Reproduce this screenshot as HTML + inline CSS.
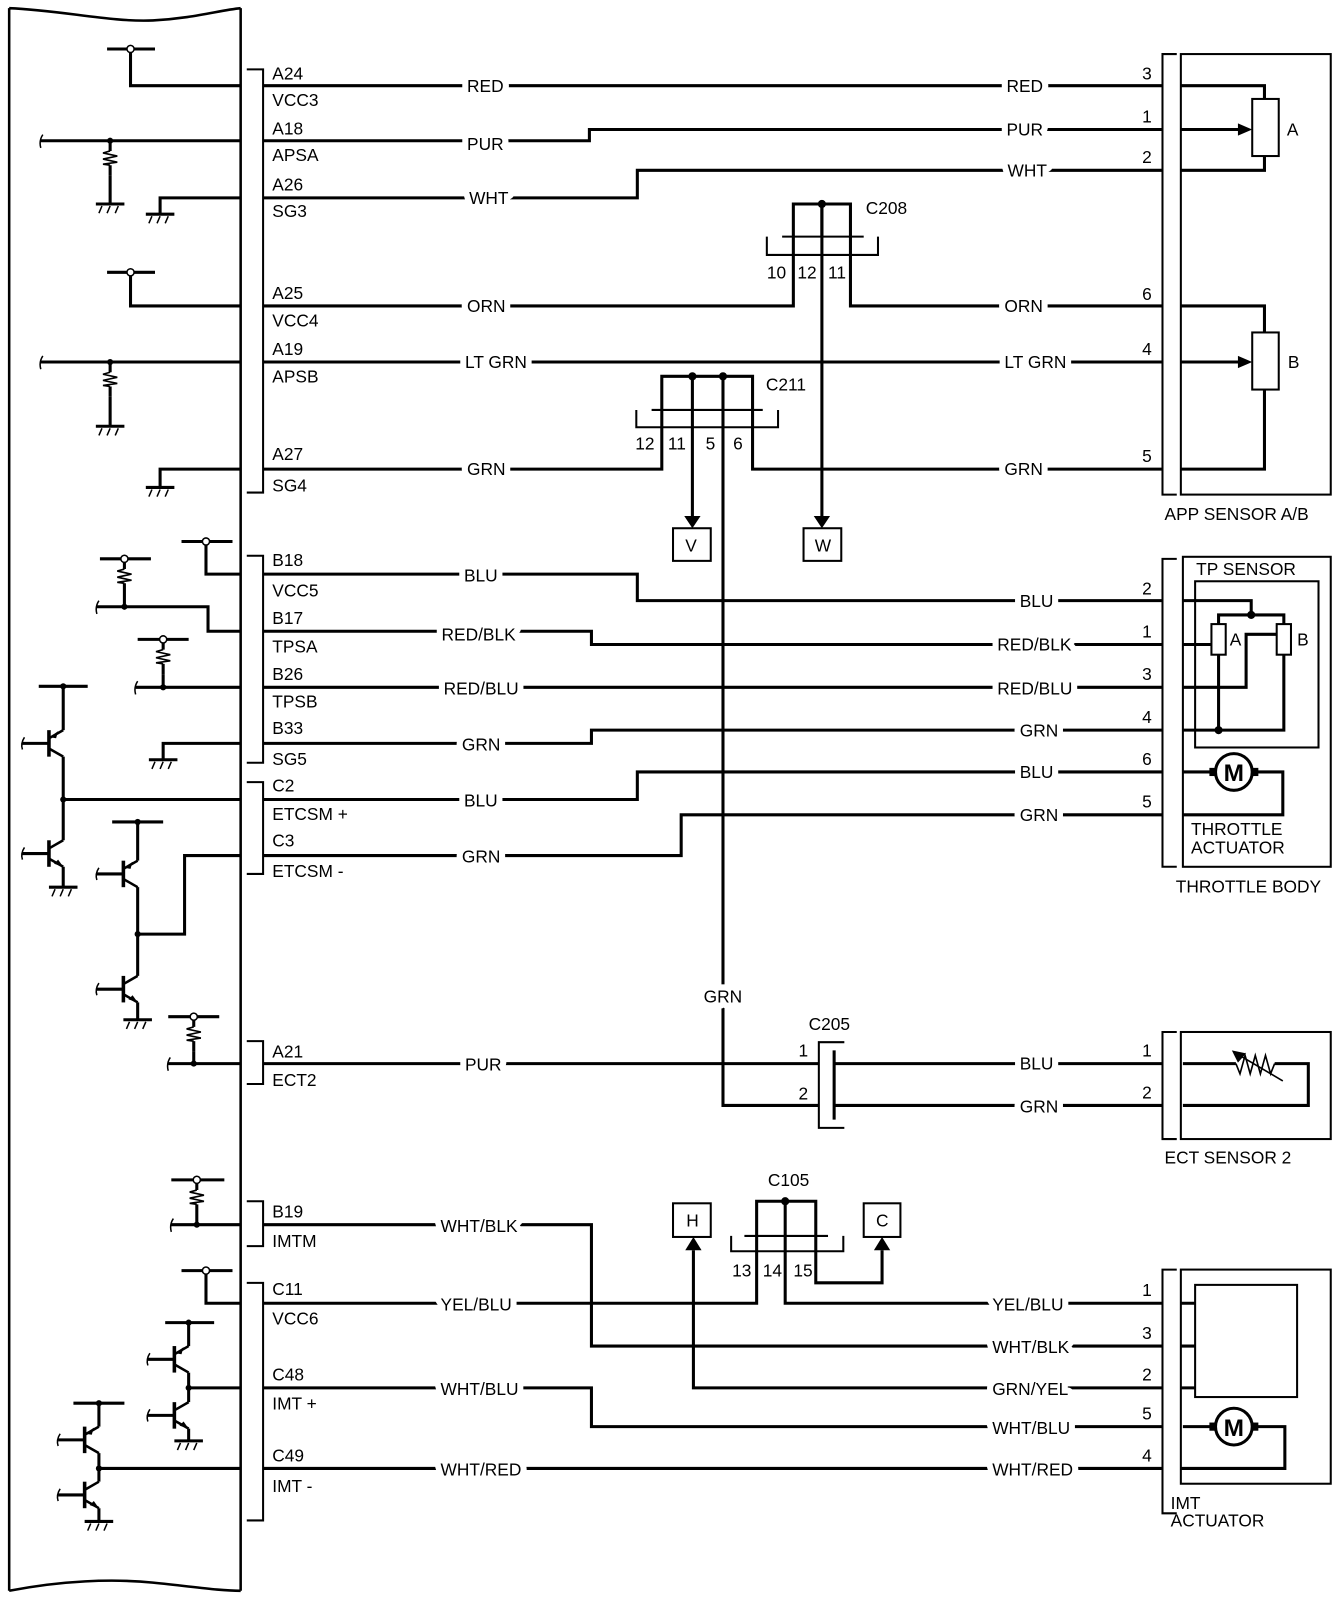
<!DOCTYPE html>
<html><head><meta charset="utf-8"><style>
html,body{margin:0;padding:0;background:#fff;}
svg{display:block;}
text{font-family:"Liberation Sans",sans-serif;font-size:17px;fill:#000;}
.m{stroke:#fff;stroke-width:12px;paint-order:stroke;stroke-linejoin:round;}
</style></head><body>
<svg width="1344" height="1600" viewBox="0 0 1318 1569" xmlns="http://www.w3.org/2000/svg">
<defs>
<g id="tp" stroke="#000" fill="none">
 <line x1="0" y1="-13" x2="0" y2="13" stroke-width="3.5"/>
 <path d="M-26,0 H0" stroke-width="3"/>
 <path d="M-24,-6 Q-28,0 -26,6" stroke-width="1.5"/>
 <path d="M0,-5 L14,-13" stroke-width="2.5"/>
 <path d="M0,5 L14,13" stroke-width="2.5"/>
 <polygon points="1,-6 9,-12 7,-5" fill="#000" stroke="none"/>
</g>
<g id="tn" stroke="#000" fill="none">
 <line x1="0" y1="-13" x2="0" y2="13" stroke-width="3.5"/>
 <path d="M-26,0 H0" stroke-width="3"/>
 <path d="M-24,-6 Q-28,0 -26,6" stroke-width="1.5"/>
 <path d="M0,-5 L14,-13" stroke-width="2.5"/>
 <path d="M0,5 L14,13" stroke-width="2.5"/>
 <polygon points="14,13 5,10 9,6" fill="#000" stroke="none"/>
</g>
<g id="gnd" stroke="#000" fill="none">
 <line x1="-14" y1="0" x2="14" y2="0" stroke-width="3"/>
 <path d="M-8,2 L-11,9 M0,2 L-3,9 M8,2 L5,9" stroke-width="1.5"/>
</g>
<g id="res" stroke="#000" fill="none">
 <path d="M0,0 V10 M0,24 V34" stroke-width="3"/>
 <path d="M0,10 L-7,12 L7,15 L-7,18 L7,21 L-7,23 L0,24" stroke-width="1.6"/>
</g>
</defs>

<path d="M9,8 C60,10 110,22 150,20 C190,18 215,10 236,8 M9,8 V1560 M236,8 V1560 M9,1560 C60,1550 110,1548 150,1552 C190,1556 215,1560 236,1560" stroke="#000" stroke-width="2.5" fill="none"/>

<g stroke="#000" stroke-width="3" fill="none">
<path d="M105,48 H152 M128,48 V84 H236"/>
<path d="M40,138 H236"/>
<path d="M236,194 H157 V210"/>
<path d="M105,267 H152 M128,267 V300 H236"/>
<path d="M40,355 H236"/>
<path d="M236,460 H157 V478"/>
<path d="M178,531 H228 M202,531 V563 H236"/>
<path d="M98,548 H148 M95,595 H204 V619 H236"/>
<path d="M135,627 H185 M133,674 H236"/>
<path d="M236,729 H160 V745"/>
<path d="M38,673 H86 M62,673 V716 M62,742 V824 M62,850 V870 M62,784 H236"/>
<path d="M110,806 H160 M135,806 V844 M135,870 V957 M135,983 V1000 M135,916 H181 V839 H236"/>
<path d="M165,997 H215 M165,1043 H236"/>
<path d="M168,1157 H220 M168,1201 H236"/>
<path d="M178,1246 H228 M202,1246 V1278 H236"/>
<path d="M162,1297 H210 M185,1297 V1320 M185,1346 V1375 M185,1401 V1413 M185,1361 H236"/>
<path d="M72,1376 H122 M97,1376 V1399 M97,1425 V1453 M97,1479 V1492 M97,1440 H236"/>
</g>
<g stroke="#000" stroke-width="1.5" fill="none">
<path d="M42,132 Q38,138 40,145 M42,349 Q38,355 40,362 M97,589 Q93,595 95,602 M135,668 Q131,674 133,681 M167,1037 Q163,1043 165,1050 M170,1195 Q166,1201 168,1208"/>
</g>
<use href="#res" x="108" y="138"/><use href="#gnd" x="108" y="200"/>
<use href="#gnd" x="157" y="210"/>
<use href="#res" x="108" y="355"/><use href="#gnd" x="108" y="418"/>
<use href="#gnd" x="157" y="478"/>
<use href="#res" x="122" y="548"/>
<path d="M108,172 V200 M108,389 V418 M122,582 V595 M160,661 V674 M190,1031 V1043 M193,1191 V1201" stroke="#000" stroke-width="3"/>
<use href="#res" x="160" y="627"/>
<use href="#gnd" x="160" y="745"/>
<use href="#tp" x="48" y="729"/><use href="#tn" x="48" y="837"/><use href="#gnd" x="62" y="870"/>
<use href="#tp" x="121" y="857"/><use href="#tn" x="121" y="970"/><use href="#gnd" x="135" y="1000"/>
<use href="#res" x="190" y="997"/>
<use href="#res" x="193" y="1157"/>
<use href="#tp" x="171" y="1333"/><use href="#tn" x="171" y="1388"/><use href="#gnd" x="185" y="1413"/>
<use href="#tp" x="83" y="1412"/><use href="#tn" x="83" y="1466"/><use href="#gnd" x="97" y="1492"/>
<g fill="#000">
<circle cx="108" cy="138" r="3"/><circle cx="108" cy="355" r="3"/><circle cx="122" cy="595" r="3"/><circle cx="160" cy="674" r="3"/>
<circle cx="62" cy="673" r="3"/><circle cx="62" cy="784" r="3"/><circle cx="135" cy="806" r="3"/><circle cx="135" cy="916" r="3"/>
<circle cx="190" cy="1043" r="3"/><circle cx="193" cy="1201" r="3"/><circle cx="185" cy="1297" r="3"/><circle cx="185" cy="1361" r="3"/>
<circle cx="97" cy="1376" r="3"/><circle cx="97" cy="1440" r="3"/>
</g>
<g fill="#fff" stroke="#000" stroke-width="1.5">
<circle cx="128" cy="48" r="3.5"/><circle cx="128" cy="267" r="3.5"/><circle cx="202" cy="531" r="3.5"/><circle cx="122" cy="548" r="3.5"/>
<circle cx="160" cy="627" r="3.5"/><circle cx="190" cy="997" r="3.5"/><circle cx="193" cy="1157" r="3.5"/><circle cx="202" cy="1246" r="3.5"/>
</g>

<g stroke="#000" stroke-width="2" fill="none">
<path d="M242,68 H258 V483 H242"/>
<path d="M242,545 H258 V748 H242"/>
<path d="M242,767 H258 V857 H242"/>
<path d="M242,1021 H258 V1063 H242"/>
<path d="M242,1178 H258 V1222 H242"/>
<path d="M242,1258 H258 V1491 H242"/>
</g>

<g stroke="#000" stroke-width="3" fill="none">
<path d="M258,84 H1140"/>
<path d="M258,138 H578 V127 H1140"/>
<path d="M258,194 H625 V167 H1140"/>
<path d="M258,300 H778 V232 M834,232 V300 H1140"/>
<path d="M258,355 H1140"/>
<path d="M258,460 H649 V402 M738,402 V460 H1140"/>
<path d="M806,200 V506 M679,369 V506 M709,369 V1084 H803"/>
<path d="M258,563 H625 V589 H1140"/>
<path d="M258,619 H580 V632 H1140"/>
<path d="M258,674 H1140"/>
<path d="M258,729 H580 V716 H1140"/>
<path d="M258,784 H625 V757 H1140"/>
<path d="M258,839 H668 V799 H1140"/>
<path d="M258,1043 H803 M818,1043 H1140 M818,1084 H1140"/>
<path d="M258,1201 H580 V1320 H1140"/>
<path d="M258,1278 H742 V1212 M770,1178 V1278 H1140"/>
<path d="M800,1212 V1258 H865 V1226"/>
<path d="M680,1226 V1361 H1140"/>
<path d="M258,1361 H580 V1399 H1140"/>
<path d="M258,1440 H1140"/>
<path d="M778,232 V200 H834 V232 M806,200 V232"/>
<path d="M649,402 V369 H738 V402"/>
<path d="M742,1212 V1178 H800 V1212"/>
</g>
<g stroke="#000" stroke-width="2" fill="none">
<path d="M767,232 H847 M752,232 V250 H861 V232"/>
<path d="M639,402 H748 M624,402 V419 H763 V402"/>
<path d="M730,1212 H812 M717,1212 V1227 H827 V1212"/>
<path d="M828,1022 H803 V1106 H828"/>
<line x1="818" y1="1030" x2="818" y2="1098" stroke-width="3"/>
<rect x="660" y="518" width="37" height="32"/>
<rect x="788" y="518" width="37" height="32"/>
<rect x="660" y="1180" width="37" height="33"/>
<rect x="847" y="1180" width="36" height="33"/>
</g>
<g fill="#000">
<circle cx="806" cy="200" r="4"/><circle cx="679" cy="369" r="4"/><circle cx="709" cy="369" r="4"/><circle cx="770" cy="1178" r="4"/>
<polygon points="798,506 814,506 806,518"/><polygon points="671,506 687,506 679,518"/>
<polygon points="672,1226 688,1226 680,1213"/><polygon points="857,1226 873,1226 865,1213"/>
</g>
<text x="672" y="541">V</text><text x="799" y="541">W</text><text x="673" y="1203">H</text><text x="859" y="1203">C</text>

<g stroke="#000" stroke-width="2" fill="none">
<path d="M1154,53 H1140 V485 H1154"/><rect x="1158" y="53" width="147" height="432"/>
<path d="M1154,548 H1140 V850 H1154"/><rect x="1160" y="546" width="145" height="304"/>
<rect x="1172" y="570" width="121" height="163"/>
<path d="M1154,1012 H1140 V1117 H1154"/><rect x="1158" y="1012" width="147" height="105"/>
<path d="M1154,1245 H1140 V1484 H1154"/><rect x="1158" y="1245" width="147" height="210"/>
<rect x="1172" y="1260" width="100" height="110"/>
<rect x="1228" y="97" width="26" height="56"/>
<rect x="1228" y="326" width="26" height="56"/>
<rect x="1188" y="612" width="14" height="30"/>
<rect x="1252" y="612" width="14" height="30"/>
</g>
<g stroke="#000" stroke-width="3" fill="none">
<path d="M1158,84 H1240 V97 M1158,167 H1240 V153 M1158,127 H1216"/>
<path d="M1158,300 H1240 V326 M1158,460 H1240 V382 M1158,355 H1216"/>
<path d="M1160,589 H1227 V603 M1195,612 V603 H1259 V612 M1160,632 H1188 M1160,674 H1222 V622 H1252 M1160,716 H1259 V642 M1195,642 V716"/>
<path d="M1160,757 H1192 M1228,757 H1258 V799 H1160"/>
<path d="M1160,1043 H1212 M1250,1043 H1283 V1084 H1160"/>
<path d="M1158,1278 H1172 M1158,1320 H1172 M1158,1361 H1172"/>
<path d="M1160,1399 H1192 M1228,1399 H1260 V1440 H1158"/>
</g>
<path d="M1212,1043 L1216,1053 L1221,1035 L1226,1053 L1231,1035 L1236,1053 L1241,1035 L1246,1053 L1250,1043" stroke="#000" stroke-width="1.6" fill="none"/>
<path d="M1214,1034 L1258,1060" stroke="#000" stroke-width="1.6"/>
<polygon points="1208,1030 1222,1033 1214,1042" fill="#000"/>
<g fill="#000">
<polygon points="1214,121 1228,127 1214,133"/><polygon points="1214,349 1228,355 1214,361"/>
<circle cx="1227" cy="603" r="4"/><circle cx="1195" cy="716" r="4"/>
<rect x="1186" y="753" width="8" height="8"/><rect x="1226" y="753" width="8" height="8"/>
<rect x="1186" y="1395" width="8" height="8"/><rect x="1226" y="1395" width="8" height="8"/>
</g>
<g stroke="#000" stroke-width="3" fill="#fff"><circle cx="1210" cy="757" r="18"/><circle cx="1210" cy="1399" r="18"/></g>
<text x="1210" y="766" text-anchor="middle" style="font-size:24px;font-weight:bold">M</text>
<text x="1210" y="1408" text-anchor="middle" style="font-size:24px;font-weight:bold">M</text>
<text x="1262" y="133">A</text><text x="1263" y="361">B</text>
<text x="1206" y="633">A</text><text x="1272" y="633">B</text>
<text x="1173" y="564">TP SENSOR</text>
<text x="1168" y="819">THROTTLE</text><text x="1168" y="837">ACTUATOR</text>
<text x="1153" y="875">THROTTLE BODY</text>
<text x="1142" y="510">APP SENSOR A/B</text>
<text x="1142" y="1141">ECT SENSOR 2</text>
<text x="1148" y="1480">IMT</text><text x="1148" y="1497">ACTUATOR</text>

<text x="849" y="210">C208</text><text x="751" y="383">C211</text>
<text x="793" y="1010">C205</text><text x="753" y="1163">C105</text>
<text x="752" y="273">10</text><text x="782" y="273">12</text><text x="812" y="273">11</text>
<text x="623" y="441">12</text><text x="655" y="441">11</text><text x="692" y="441">5</text><text x="719" y="441">6</text>
<text x="718" y="1252">13</text><text x="748" y="1252">14</text><text x="778" y="1252">15</text>
<text x="783" y="1036">1</text><text x="783" y="1078">2</text>

<g>
<text x="1120" y="78">3</text><text x="1120" y="120">1</text><text x="1120" y="160">2</text>
<text x="1120" y="294">6</text><text x="1120" y="348">4</text><text x="1120" y="453">5</text>
<text x="1120" y="583">2</text><text x="1120" y="625">1</text><text x="1120" y="667">3</text>
<text x="1120" y="709">4</text><text x="1120" y="750">6</text><text x="1120" y="792">5</text>
<text x="1120" y="1036">1</text><text x="1120" y="1077">2</text>
<text x="1120" y="1271">1</text><text x="1120" y="1313">3</text><text x="1120" y="1354">2</text>
<text x="1120" y="1392">5</text><text x="1120" y="1433">4</text>
</g>

<g>
<text x="267" y="78">A24</text><text x="267" y="104">VCC3</text>
<text x="267" y="132">A18</text><text x="267" y="158">APSA</text>
<text x="267" y="187">A26</text><text x="267" y="213">SG3</text>
<text x="267" y="293">A25</text><text x="267" y="320">VCC4</text>
<text x="267" y="348">A19</text><text x="267" y="375">APSB</text>
<text x="267" y="451">A27</text><text x="267" y="482">SG4</text>
<text x="267" y="555">B18</text><text x="267" y="585">VCC5</text>
<text x="267" y="612">B17</text><text x="267" y="640">TPSA</text>
<text x="267" y="667">B26</text><text x="267" y="694">TPSB</text>
<text x="267" y="720">B33</text><text x="267" y="750">SG5</text>
<text x="267" y="776">C2</text><text x="267" y="804">ETCSM +</text>
<text x="267" y="830">C3</text><text x="267" y="860">ETCSM -</text>
<text x="267" y="1037">A21</text><text x="267" y="1065">ECT2</text>
<text x="267" y="1194">B19</text><text x="267" y="1223">IMTM</text>
<text x="267" y="1270">C11</text><text x="267" y="1299">VCC6</text>
<text x="267" y="1354">C48</text><text x="267" y="1382">IMT +</text>
<text x="267" y="1433">C49</text><text x="267" y="1463">IMT -</text>
</g>

<g class="m">
<text class="m" x="458" y="90">RED</text><text class="m" x="987" y="90">RED</text>
<text class="m" x="458" y="147">PUR</text><text class="m" x="987" y="133">PUR</text>
<text class="m" x="460" y="200">WHT</text><text class="m" x="988" y="173">WHT</text>
<text class="m" x="458" y="306">ORN</text><text class="m" x="985" y="306">ORN</text>
<text class="m" x="456" y="361">LT GRN</text><text class="m" x="985" y="361">LT GRN</text>
<text class="m" x="458" y="466">GRN</text><text class="m" x="985" y="466">GRN</text>
<text class="m" x="455" y="570">BLU</text><text class="m" x="1000" y="595">BLU</text>
<text class="m" x="433" y="628">RED/BLK</text><text class="m" x="978" y="638">RED/BLK</text>
<text class="m" x="435" y="681">RED/BLU</text><text class="m" x="978" y="681">RED/BLU</text>
<text class="m" x="453" y="736">GRN</text><text class="m" x="1000" y="722">GRN</text>
<text class="m" x="455" y="791">BLU</text><text class="m" x="1000" y="763">BLU</text>
<text class="m" x="453" y="846">GRN</text><text class="m" x="1000" y="805">GRN</text>
<text class="m" x="690" y="983">GRN</text>
<text class="m" x="456" y="1050">PUR</text><text class="m" x="1000" y="1049">BLU</text><text class="m" x="1000" y="1091">GRN</text>
<text class="m" x="432" y="1208">WHT/BLK</text><text class="m" x="973" y="1327">WHT/BLK</text>
<text class="m" x="432" y="1285">YEL/BLU</text><text class="m" x="973" y="1285">YEL/BLU</text>
<text class="m" x="973" y="1368">GRN/YEL</text>
<text class="m" x="432" y="1368">WHT/BLU</text><text class="m" x="973" y="1406">WHT/BLU</text>
<text class="m" x="432" y="1447">WHT/RED</text><text class="m" x="973" y="1447">WHT/RED</text>
</g>
</svg>
</body></html>
